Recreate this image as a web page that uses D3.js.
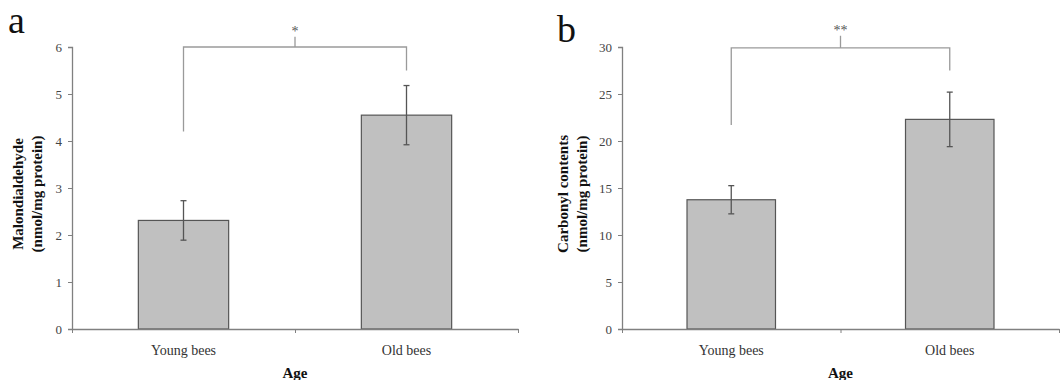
<!DOCTYPE html>
<html>
<head>
<meta charset="utf-8">
<script src="https://cdn.jsdelivr.net/npm/d3@7"></script>
<style>
  body { margin: 0; background: #fff; }
  svg { display: block; }
  text { font-family: "Liberation Serif", "Times New Roman", serif; }
</style>
</head>
<body>
<svg id="chart" width="1063" height="380"></svg>
<script>
// ---- data ----
const categories = ["Young bees", "Old bees"];
const mdaValues = [2.31, 4.55];
const mdaErrors = [0.42, 0.63];
const carbonylValues = [13.75, 22.3];
const carbonylErrors = [1.5, 2.9];
const mdaTicks = [0, 1, 2, 3, 4, 5, 6];
const carbonylTicks = [0, 5, 10, 15, 20, 25, 30];
const panelLetters = ["a", "b"];
const yTitles = [["Malondialdehyde", "(nmol/mg protein)"], ["Carbonyl contents", "(nmol/mg protein)"]];
const xTitle = "Age";
const sigLabels = ["*", "**"];
// bracket: [left leg bottom, right leg bottom, bar level, label tick top] in data units
const mdaBracket = [4.2, 5.5, 6.0, 6.22];
const carbonylBracket = [21.7, 27.5, 29.9, 31.2];

const svg = d3.select("#chart");

const panels = [
  { left: 72, right: 518, top: 47, bottom: 329, max: 6, ticks: mdaTicks, values: mdaValues, errors: mdaErrors,
    letter: panelLetters[0], letterX: 8, letterY: 33, title: yTitles[0], titleX: 18, bracket: mdaBracket, sig: sigLabels[0] },
  { left: 622, right: 1059, top: 47, bottom: 329, max: 30, ticks: carbonylTicks, values: carbonylValues, errors: carbonylErrors,
    letter: panelLetters[1], letterX: 557, letterY: 42, title: yTitles[1], titleX: 563, bracket: carbonylBracket, sig: sigLabels[1] }
];

panels.forEach(p => {
  const g = svg.append("g");
  const y = d3.scaleLinear().domain([0, p.max]).range([p.bottom, p.top]);
  const x = d3.scaleBand().domain(categories).range([p.left, p.right]).padding(0);
  const xEdge = d3.scaleLinear().domain([0, categories.length]).range([p.left, p.right]);
  const barW = x.bandwidth() * 0.405;

  // bars
  g.selectAll("rect.bar").data(p.values).enter().append("rect")
    .attr("x", (d, i) => x(categories[i]) + x.bandwidth() / 2 - barW / 2)
    .attr("y", d => y(d))
    .attr("width", barW)
    .attr("height", d => y(0) - y(d))
    .attr("fill", "#c0c0c0")
    .attr("stroke", "#555")
    .attr("stroke-width", 1.2);

  // error bars
  p.values.forEach((v, i) => {
    const cx = x(categories[i]) + x.bandwidth() / 2;
    const e = p.errors[i];
    g.append("line").attr("x1", cx).attr("x2", cx).attr("y1", y(v + e)).attr("y2", y(v - e))
      .attr("stroke", "#555").attr("stroke-width", 1.3);
    [v + e, v - e].forEach(t => {
      g.append("line").attr("x1", cx - 3).attr("x2", cx + 3).attr("y1", y(t)).attr("y2", y(t))
        .attr("stroke", "#555").attr("stroke-width", 1.3);
    });
  });

  // y axis
  const yAxis = g.append("g").attr("transform", `translate(${p.left},0)`)
    .call(d3.axisLeft(y).tickValues(p.ticks).tickSize(4).tickPadding(6).tickFormat(d3.format("d")));
  yAxis.select(".domain").attr("stroke", "#808080").attr("stroke-width", 1.3);
  yAxis.selectAll(".tick line").attr("stroke", "#808080");
  yAxis.selectAll(".tick text").attr("fill", "#444").style("font-size", "13px")
    .style("font-family", "'Liberation Serif', serif");

  // x axis (edges with ticks)
  const xAxisEdge = g.append("g").attr("transform", `translate(0,${p.bottom})`)
    .call(d3.axisBottom(xEdge).tickValues(d3.range(categories.length + 1)).tickSize(4).tickSizeOuter(0).tickFormat(""));
  xAxisEdge.select(".domain").attr("stroke", "#808080").attr("stroke-width", 1.3);
  xAxisEdge.selectAll(".tick line").attr("stroke", "#808080");

  const xAxisLab = g.append("g").attr("transform", `translate(0,${p.bottom})`)
    .call(d3.axisBottom(x).tickSize(0).tickPadding(16));
  xAxisLab.select(".domain").remove();
  xAxisLab.selectAll(".tick text").attr("fill", "#333").style("font-size", "14px")
    .style("font-family", "'Liberation Serif', serif");

  // x title
  g.append("text").attr("x", (p.left + p.right) / 2).attr("y", 378)
    .attr("text-anchor", "middle").attr("font-weight", "bold").attr("font-size", 15).attr("fill", "#111")
    .text(xTitle);

  // y title
  const cy = (p.top + p.bottom) / 2 + 6;
  p.title.forEach((t, k) => {
    g.append("text")
      .attr("transform", `translate(${p.titleX + k * 19 + 5},${cy}) rotate(-90)`)
      .attr("text-anchor", "middle").attr("font-weight", "bold").attr("font-size", 15).attr("fill", "#111")
      .text(t);
  });

  // panel letter
  g.append("text").attr("x", p.letterX).attr("y", p.letterY)
    .attr("font-size", 38).attr("fill", "#111").text(p.letter);

  // significance bracket
  const [lb, rb, lvl, tt] = p.bracket;
  const xl = x(categories[0]) + x.bandwidth() / 2;
  const xr = x(categories[1]) + x.bandwidth() / 2;
  const xm = xEdge(1);
  g.append("path")
    .attr("d", `M${xl},${y(lb)}V${y(lvl)}H${xr}V${y(rb)}M${xm},${y(lvl)}V${y(tt)}`)
    .attr("fill", "none").attr("stroke", "#9a9a9a").attr("stroke-width", 1.3);
  g.append("text").attr("x", xm).attr("y", y(tt) - 1)
    .attr("text-anchor", "middle").attr("font-size", 14).attr("fill", "#555").text(p.sig);
});
</script>
</body>
</html>
